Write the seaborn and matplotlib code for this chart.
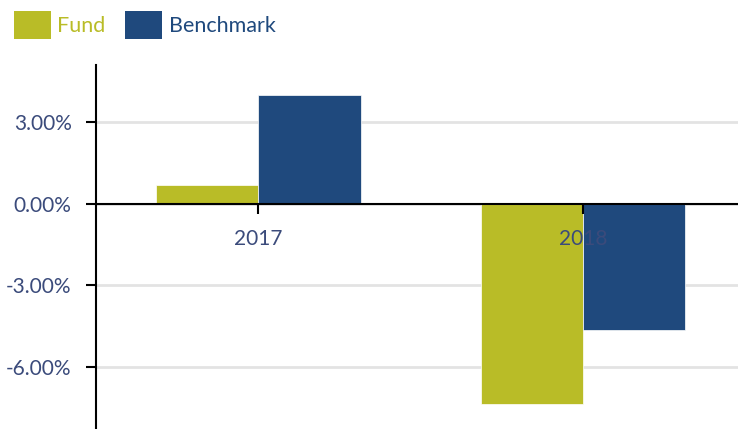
import matplotlib
matplotlib.use("Agg")
import matplotlib.pyplot as plt
import seaborn as sns
import pandas as pd
from matplotlib.patches import Patch
from matplotlib.ticker import FuncFormatter

years = ["2017", "2018"]
fund = [0.69, -7.35]
benchmark = [4.00, -4.63]
series_names = ["Fund", "Benchmark"]
colors = ["#B9BC27", "#1F497D"]
y_ticks = [-6, -3, 0, 3]

df = pd.DataFrame({
    "Year": years * 2,
    "Series": [series_names[0]] * len(years) + [series_names[1]] * len(years),
    "Return": fund + benchmark,
})

sns.set_theme(style="white")
plt.rcParams["font.family"] = ["Lato", "DejaVu Sans"]

fig = plt.figure(figsize=(7.38, 4.29), dpi=100)
ax = fig.add_axes([96 / 738, 0.0, 1 - 96 / 738, 1 - 65 / 429])

sns.barplot(data=df, x="Year", y="Return", hue="Series", order=years,
            hue_order=series_names, palette=colors, width=0.63,
            edgecolor="white", linewidth=0.5, saturation=1, legend=False, ax=ax,
            errorbar=None)

ax.set_xlim(-0.5, 1.477)
ax.set_ylim(-8.28, 5.095)
ax.set_yticks(y_ticks)
ax.yaxis.set_major_formatter(FuncFormatter(lambda v, p: f"{v:.2f}%"))
ax.set_xlabel("")
ax.set_ylabel("")

ax.set_axisbelow(True)
ax.yaxis.grid(True, color="#E3E3E3", linewidth=2)
ax.xaxis.grid(False)
ax.xaxis.set_zorder(5)

for s in ["top", "right"]:
    ax.spines[s].set_visible(False)
ax.spines["bottom"].set_position(("data", 0))
for s in ["left", "bottom"]:
    ax.spines[s].set_color("black")
    ax.spines[s].set_linewidth(1.5)
    ax.spines[s].set_zorder(4)

label_color = "#3B4B7B"
ax.tick_params(axis="y", direction="out", length=7.5, width=1.5, color="black",
               labelsize=15, labelcolor=label_color, pad=10, left=True)
ax.tick_params(axis="x", direction="out", length=7.5, width=1.5, color="black",
               labelsize=15, labelcolor=label_color, pad=11, bottom=True)

handles = [Patch(facecolor=c, edgecolor="none") for c in colors]
leg = fig.legend(handles, series_names, loc="upper left",
                 bbox_to_anchor=(14 / 738, 1 - 11 / 429), ncol=2, frameon=False,
                 fontsize=15.5, handlelength=1.72, handleheight=1.62,
                 handletextpad=0.3, columnspacing=0.9, borderpad=0,
                 borderaxespad=0)
for t, c in zip(leg.get_texts(), colors):
    t.set_color(c)

fig.savefig("out.png", dpi=100)
